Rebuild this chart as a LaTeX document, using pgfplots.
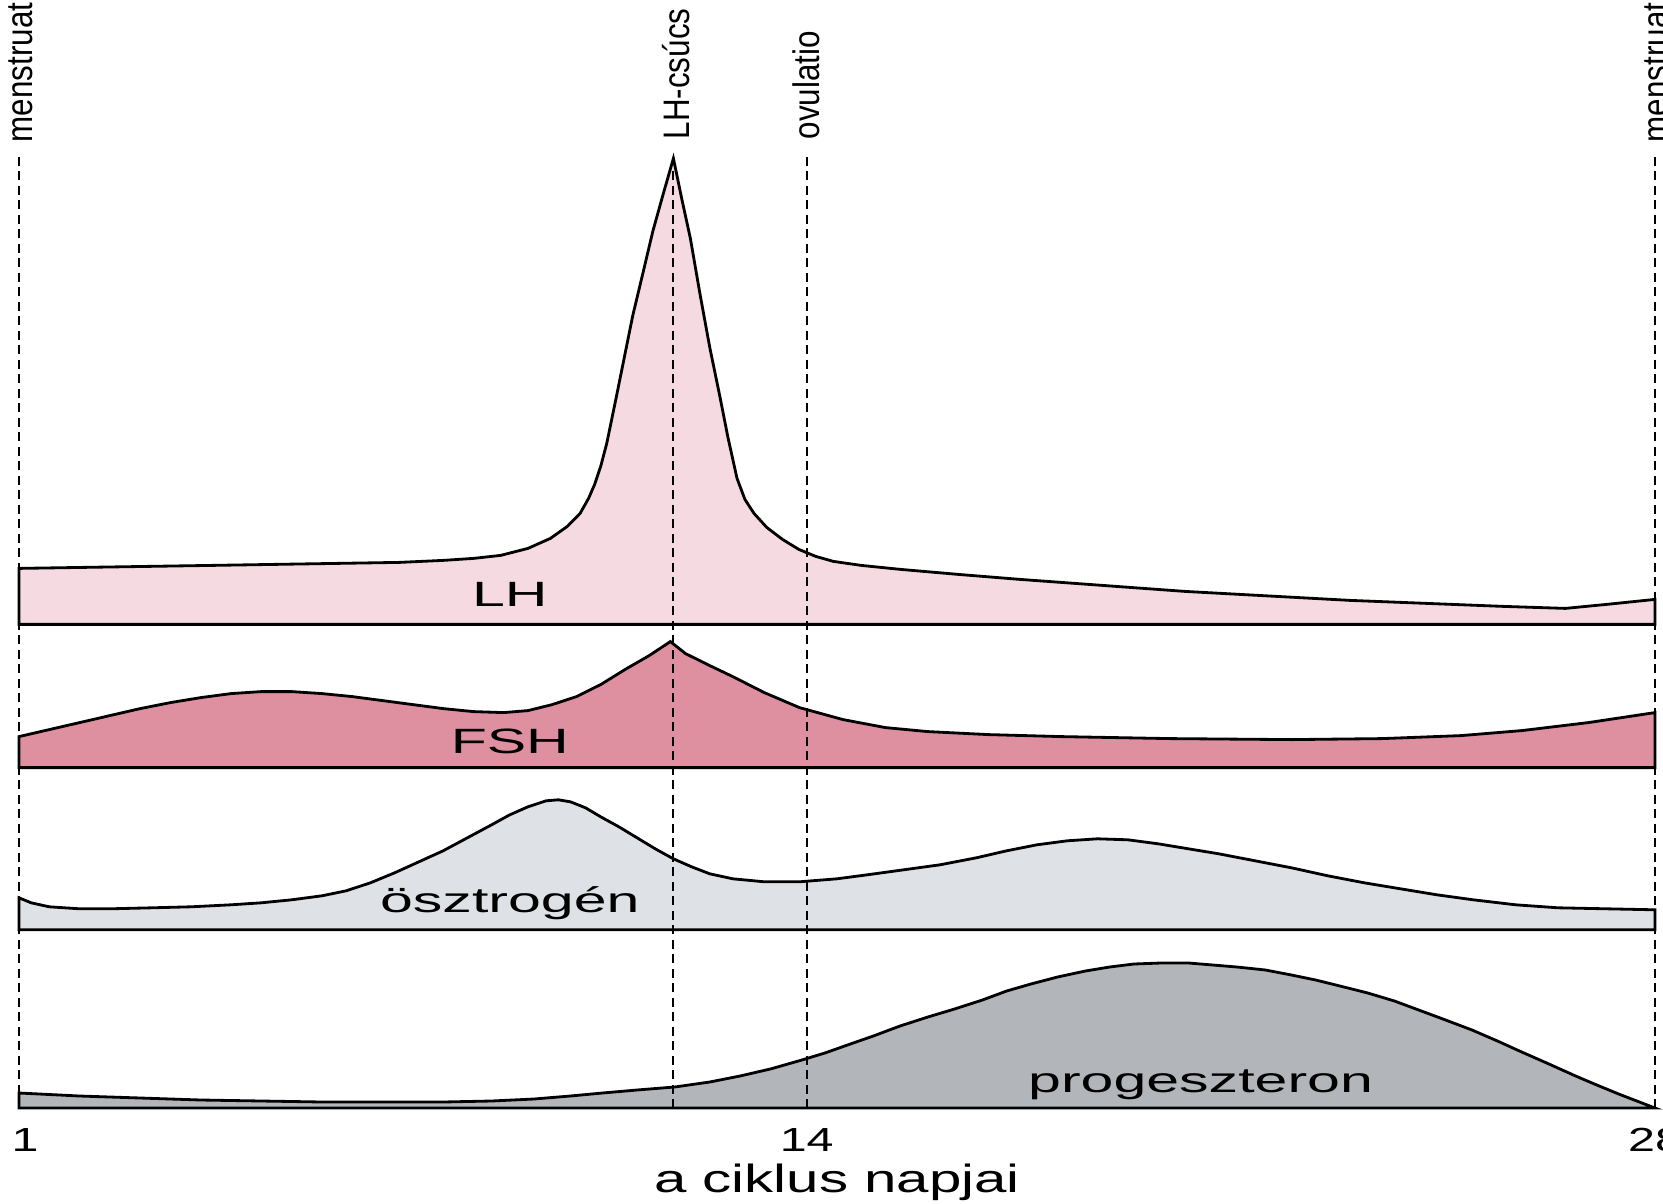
\documentclass[border=0pt]{standalone}
\usepackage{pgfplots}
\pgfplotsset{compat=1.18}
\usepackage{pgfplotstable}
\usepackage{graphicx}
\usepackage{fontspec}
\setmainfont{Liberation Sans}

\definecolor{lhfill}{RGB}{245,218,226}
\definecolor{fshfill}{RGB}{222,144,160}
\definecolor{estfill}{RGB}{222,226,231}
\definecolor{progfill}{RGB}{178,181,185}

\newcommand\cnd[1]{\scalebox{0.85}[1]{#1}}
\newcommand\wide[1]{\scalebox{1.68}[1]{#1}}
\newcommand\tck[1]{\scalebox{1.45}[1]{#1}}

% day, level above the panel baseline
\pgfplotstableread{
d v
1.00 0
1.00 56
4.19 59
7.28 62
8.00 64
8.50 66
8.95 69
9.40 76
9.77 86
10.05 98
10.26 111
10.40 126
10.50 140
10.60 158
10.70 181
10.85 225
11.00 270
11.13 309
11.30 352
11.46 393
11.63 430
11.80 466
11.94 425
12.08 386
12.24 330
12.40 277
12.57 227
12.70 187
12.85 146
12.98 125
13.13 111
13.34 97
13.60 85
13.87 75
14.15 68
14.44 63
14.90 59
15.55 55
16.50 50
17.52 45
20.24 33
22.97 24
25.50 18
26.52 16
27.20 20
28.00 25
28.00 0
}\lhdata

\pgfplotstableread{
d v
1.00 0
1.00 31
1.50 38
2.00 45
2.50 52
3.00 59
3.50 65
4.00 70
4.50 74
5.00 76
5.50 76
6.00 74
6.50 71
7.00 67
7.50 63
8.00 59
8.50 56
9.00 55
9.40 57
9.80 63
10.20 71
10.60 83
11.00 98
11.40 112
11.75 126
12.00 114
12.40 102
12.78 91
13.30 75
13.88 60
14.60 48
15.30 40
16.00 36
17.00 33
18.20 31
20.00 29
22.00 28
23.50 29
24.80 32
25.80 37
26.90 45
28.00 55
28.00 0
}\fshdata

\pgfplotstableread{
d v
1.00 0
1.00 32
1.20 27
1.50 23
2.00 21
2.50 21
3.20 22
3.84 23
4.50 25
5.00 27
5.50 30
6.00 34
6.40 39
6.80 47
7.20 57
7.60 68
8.00 79
8.40 92
8.80 105
9.10 115
9.40 123
9.70 129
9.90 130
10.10 128
10.35 122
10.60 113
10.90 103
11.20 92
11.50 81
11.80 71
12.10 63
12.40 56
12.78 51
13.30 48
13.88 48
14.50 51
15.00 55
15.60 60
16.20 65
16.80 72
17.30 79
17.80 85
18.30 89
18.80 91
19.30 90
19.80 86
20.30 81
20.80 76
21.40 69
22.00 62
22.60 54
23.20 47
23.80 41
24.40 35
25.00 30
25.70 25
26.40 22
27.20 21
28.00 20
28.00 0
}\estdata

\pgfplotstableread{
d v
1.00 0
1.00 15
2.00 12
3.00 10
4.00 8
5.00 7
6.00 6
7.00 6
8.00 6
8.80 7
9.50 9
10.10 12
10.63 15
11.20 18
11.82 21
12.40 26
12.90 32
13.40 39
13.92 48
14.30 55
14.72 64
15.10 72
15.54 82
16.00 91
16.44 99
16.90 108
17.30 117
17.70 124
18.14 131
18.60 137
19.00 141
19.40 144
19.85 145
20.30 145
20.70 143
21.10 141
21.57 138
22.00 133
22.40 128
22.80 122
23.26 115
23.70 107
24.10 98
24.50 89
24.98 78
25.40 67
25.80 56
26.25 44
26.69 32
27.00 24
27.40 14
27.70 7
28.00 0
}\progdata

\begin{document}
\begin{tikzpicture}
\begin{axis}[
  at={(1.9mm,9.5mm)}, anchor=south west,
  scale only axis, width=163.6mm, height=95.1mm,
  xmin=1, xmax=28, ymin=0, ymax=951,
  axis x line*=bottom, axis y line=none,
  x axis line style={draw=none},
  xtick={1,14,28}, xticklabels={\hspace*{1.2mm}\tck{1},\tck{14},\tck{28}},
  major tick length=0pt,
  xticklabel style={font=\fontsize{9.5}{9.5}\selectfont, yshift=-0.8mm},
  xlabel={\scalebox{1.48}[1]{a ciklus napjai}},
  xlabel style={font=\fontsize{11.2}{11.2}\selectfont, at={(axis description cs:0.5,0)}, anchor=base, yshift=-8.4mm},
  clip=false, no markers,
]
\addplot[draw=black, line width=0.8pt, fill=lhfill] table[x=d, y expr=\thisrow{v}+483.6] {\lhdata} -- cycle;
\addplot[draw=black, line width=0.8pt, fill=fshfill] table[x=d, y expr=\thisrow{v}+340.4] {\fshdata} -- cycle;
\addplot[draw=black, line width=0.8pt, fill=estfill] table[x=d, y expr=\thisrow{v}+178.2] {\estdata} -- cycle;
\addplot[draw=black, line width=0.8pt, fill=progfill] table[x=d, y=v] {\progdata} -- cycle;

\addplot[black, line width=0.6pt, dash pattern=on 0.9mm off 0.55mm] coordinates {(1,0) (1,951)};
\addplot[black, line width=0.6pt, dash pattern=on 0.9mm off 0.55mm] coordinates {(11.8,0) (11.8,940)};
\addplot[black, line width=0.6pt, dash pattern=on 0.9mm off 0.55mm] coordinates {(14,0) (14,951)};
\addplot[black, line width=0.6pt, dash pattern=on 0.9mm off 0.55mm] coordinates {(28,0) (28,951)};

\node[rotate=90, anchor=west, inner sep=0pt, font=\fontsize{10.5}{10.5}\selectfont] at (axis cs:1,965) {\cnd{menstruatio}};
\node[rotate=90, anchor=west, inner sep=0pt, font=\fontsize{10.5}{10.5}\selectfont] at (axis cs:28,965) {\cnd{menstruatio}};
\node[rotate=90, anchor=west, inner sep=0pt, font=\fontsize{10.5}{10.5}\selectfont] at (axis cs:11.85,968) {\cnd{LH-csúcs}};
\node[rotate=90, anchor=west, inner sep=0pt, font=\fontsize{10.5}{10.5}\selectfont] at (axis cs:14,968) {\cnd{ovulatio}};

\node[anchor=base, inner sep=0pt, font=\fontsize{10}{10}\selectfont] at (axis cs:9.1,501) {\wide{LH}};
\node[anchor=base, inner sep=0pt, font=\fontsize{10}{10}\selectfont] at (axis cs:9.1,355) {\wide{FSH}};
\node[anchor=base, inner sep=0pt, font=\fontsize{10}{10}\selectfont] at (axis cs:9.1,196) {\wide{ösztrogén}};
\node[anchor=base, inner sep=0pt, font=\fontsize{10}{10}\selectfont] at (axis cs:20.5,16) {\wide{progeszteron}};
\end{axis}
\pgfresetboundingbox
\path[use as bounding box] (0,0) rectangle (166.3mm,120.3mm);
\end{tikzpicture}
\end{document}
